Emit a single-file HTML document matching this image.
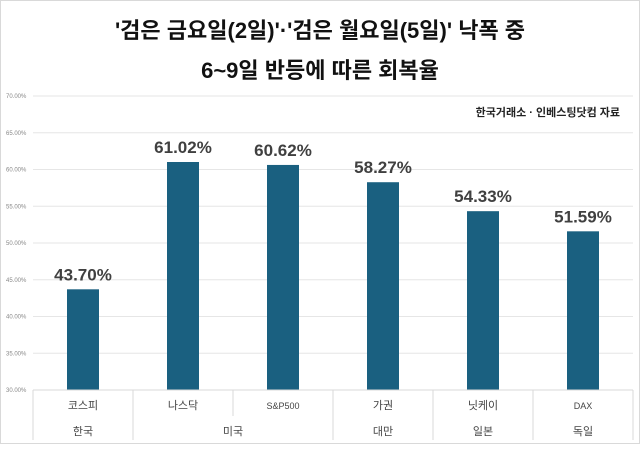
<!DOCTYPE html>
<html><head><meta charset="utf-8"><style>
body{margin:0;background:#fff;width:640px;height:444px;overflow:hidden;font-family:"Liberation Sans","Noto Sans CJK KR",sans-serif}
</style></head><body>
<svg width="640" height="444" style="font-family:'Liberation Sans','Noto Sans CJK KR',sans-serif">
<rect x="0.5" y="0.5" width="639" height="443" fill="#fff" stroke="#d9d9d9"/>
<text x="320" y="38" text-anchor="middle" font-size="22" font-weight="bold" fill="#111">'검은 금요일(2일)'·'검은 월요일(5일)' 낙폭 중</text>
<text x="320" y="78" text-anchor="middle" font-size="22" font-weight="bold" fill="#111">6~9일 반등에 따른 회복율</text>
<text x="620" y="116" text-anchor="end" font-size="11" font-weight="bold" fill="#222">한국거래소 · 인베스팅닷컴 자료</text>
<g id="grid"></g><g id="bars"></g><g id="xaxis"></g>
</svg>
<script>
const categories=["코스피","나스닥","S&P500","가권","닛케이","DAX"];
const values=[43.70,61.02,60.62,58.27,54.33,51.59];
const groups=[["한국",0,1],["미국",1,3],["대만",3,4],["일본",4,5],["독일",5,6]];
const ticks=[30,35,40,45,50,55,60,65,70];
const NS="http://www.w3.org/2000/svg";
const x0=33,bw=100,yTop=96,yBot=390,vmin=30,vmax=70;
const y=v=>yBot-(v-vmin)/(vmax-vmin)*(yBot-yTop);
const xc=i=>x0+bw*i+bw/2;
function mk(tag,attrs,parent,txt){const e=document.createElementNS(NS,tag);for(const k in attrs)e.setAttribute(k,attrs[k]);if(txt!==undefined)e.textContent=txt;parent.appendChild(e);return e;}
const grid=document.getElementById('grid'),bars=document.getElementById('bars'),xa=document.getElementById('xaxis');
ticks.forEach(t=>{
 const l=mk('line',{x1:x0,x2:633,y1:y(t),y2:y(t),stroke:'#e6e6e6','stroke-width':1},grid);
 
 
 const tx=mk('text',{x:6,y:y(t)+2,'font-size':6,fill:'#888'},grid,t.toFixed(2)+'%');
 
 
});
values.forEach((v,i)=>{
 const r=mk('rect',{x:xc(i)-16,y:y(v),width:32,height:yBot-y(v),fill:'#1a6080'},bars);
 
 
 const t=mk('text',{x:xc(i),y:y(v)-9,'text-anchor':'middle','font-size':17,'font-weight':'bold',fill:'#404040'},bars,v.toFixed(2)+'%');
 
 
 const c=mk('text',{x:xc(i),y:409,'text-anchor':'middle','font-size':categories[i].match(/[A-Z]/)?9:11,fill:'#444'},xa,categories[i]);
 
 
});
const ax=mk('line',{x1:x0,x2:633,y1:yBot,y2:yBot,stroke:'#d9d9d9'},xa);


for(let i=0;i<=categories.length;i++){
 const isGroupEdge=groups.some(g=>g[1]===i)||i===categories.length;
 const l=mk('line',{x1:x0+bw*i,x2:x0+bw*i,y1:yBot,y2:isGroupEdge?440:416,stroke:'#d9d9d9'},xa);
 
 
}
groups.forEach(g=>{
 const t=mk('text',{x:(x0+bw*g[1]+x0+bw*g[2])/2,y:435,'text-anchor':'middle','font-size':11,fill:'#444'},xa,g[0]);
 
 
});
</script>
</body></html>
